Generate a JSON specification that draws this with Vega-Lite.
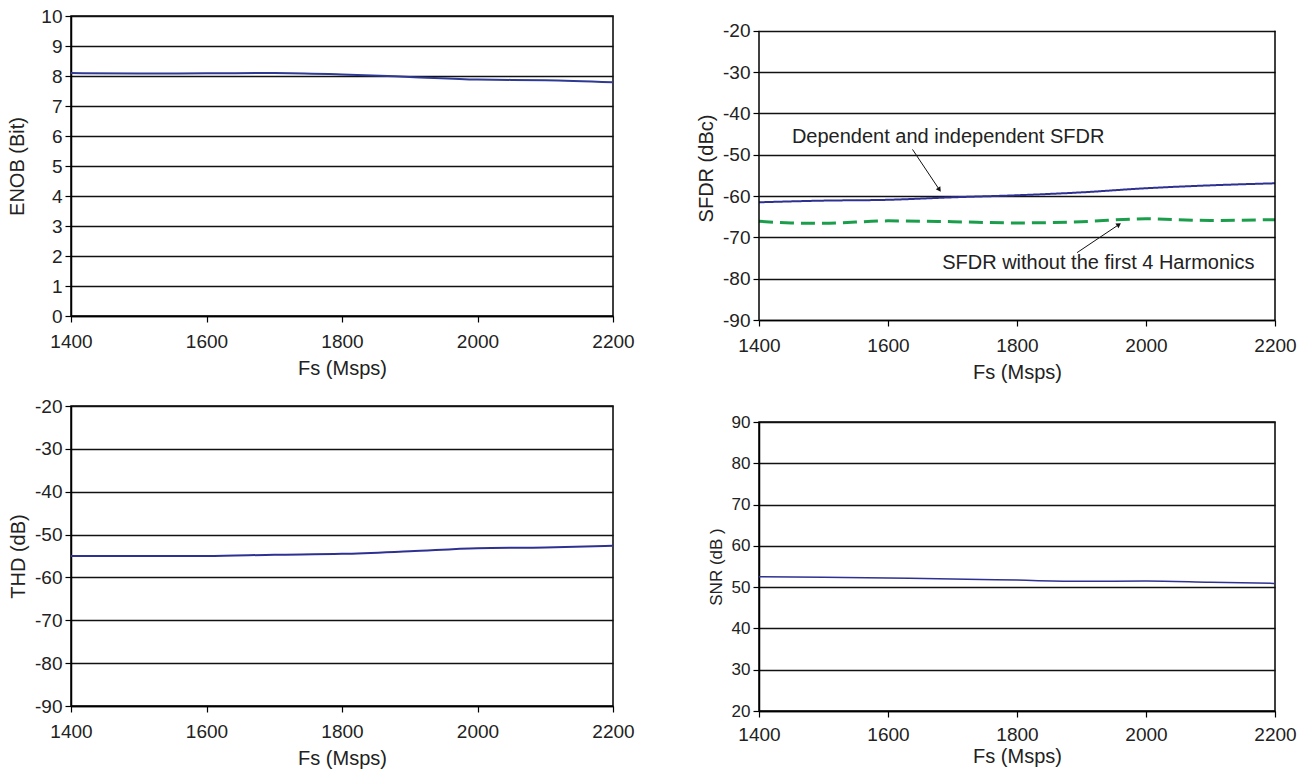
{
  "$schema": "https://vega.github.io/schema/vega-lite/v6.json",
  "background": "white",
  "padding": {"left": 7, "top": 6, "right": 10, "bottom": 2},
  "columns": 2,
  "align": "none",
  "spacing": 61,
  "config": {
    "font": "Liberation Sans",
    "view": {"stroke": "#000", "strokeWidth": 1.5},
    "axis": {
      "labelFontSize": 19, "titleFontSize": 20, "titleFontWeight": "normal",
      "labelColor": "#222", "titleColor": "#222",
      "domainColor": "#000", "domainWidth": 1.5,
      "tickColor": "#000", "tickSize": 6, "tickWidth": 1.2,
      "gridColor": "#111", "gridWidth": 1.3, "gridOpacity": 1,
      "labelPadding": 3, "labelFlush": false, "labelOverlap": false,
      "labelExpr": "datum.value + ''"
    },
    "axisX": {"grid": false, "labelPadding": 10, "titlePadding": 7},
    "axisY": {"titlePadding": 6}
  },
  "datasets": {
    "enob": [
      {"fs": 1400, "v": 8.1}, {"fs": 1500, "v": 8.08}, {"fs": 1600, "v": 8.09},
      {"fs": 1700, "v": 8.1}, {"fs": 1800, "v": 8.05}, {"fs": 1900, "v": 7.97},
      {"fs": 2000, "v": 7.88}, {"fs": 2100, "v": 7.86}, {"fs": 2200, "v": 7.79}
    ],
    "sfdr": [
      {"fs": 1400, "v": -61.5, "s": "Dependent and independent SFDR"},
      {"fs": 1500, "v": -61.1, "s": "Dependent and independent SFDR"},
      {"fs": 1600, "v": -60.9, "s": "Dependent and independent SFDR"},
      {"fs": 1700, "v": -60.3, "s": "Dependent and independent SFDR"},
      {"fs": 1800, "v": -59.8, "s": "Dependent and independent SFDR"},
      {"fs": 1900, "v": -59.1, "s": "Dependent and independent SFDR"},
      {"fs": 2000, "v": -58.1, "s": "Dependent and independent SFDR"},
      {"fs": 2100, "v": -57.4, "s": "Dependent and independent SFDR"},
      {"fs": 2200, "v": -56.9, "s": "Dependent and independent SFDR"},
      {"fs": 1400, "v": -66.1, "s": "SFDR without the first 4 Harmonics"},
      {"fs": 1450, "v": -66.5, "s": "SFDR without the first 4 Harmonics"},
      {"fs": 1500, "v": -66.6, "s": "SFDR without the first 4 Harmonics"},
      {"fs": 1600, "v": -66.0, "s": "SFDR without the first 4 Harmonics"},
      {"fs": 1700, "v": -66.2, "s": "SFDR without the first 4 Harmonics"},
      {"fs": 1800, "v": -66.5, "s": "SFDR without the first 4 Harmonics"},
      {"fs": 1900, "v": -66.2, "s": "SFDR without the first 4 Harmonics"},
      {"fs": 2000, "v": -65.5, "s": "SFDR without the first 4 Harmonics"},
      {"fs": 2100, "v": -65.9, "s": "SFDR without the first 4 Harmonics"},
      {"fs": 2200, "v": -65.7, "s": "SFDR without the first 4 Harmonics"}
    ],
    "notes": [
      {"fs": 1451, "v": -45.6, "label": "Dependent and independent SFDR"},
      {"fs": 1684, "v": -76.3, "label": "SFDR without the first 4 Harmonics"}
    ],
    "arrows": [
      {"fs": 1638, "v": -48.7, "fs2": 1679, "v2": -58.3},
      {"fs": 1893, "v": -73.7, "fs2": 1957, "v2": -67.0}
    ],
    "frame": [
      {"fs": 1400}, {"fs": 2200}
    ],
    "thd": [
      {"fs": 1400, "v": -55.0}, {"fs": 1500, "v": -55.0}, {"fs": 1600, "v": -55.0},
      {"fs": 1700, "v": -54.7}, {"fs": 1800, "v": -54.5}, {"fs": 1900, "v": -53.9},
      {"fs": 2000, "v": -53.2}, {"fs": 2100, "v": -53.0}, {"fs": 2200, "v": -52.6}
    ],
    "snr": [
      {"fs": 1400, "v": 52.5}, {"fs": 1500, "v": 52.4}, {"fs": 1600, "v": 52.2},
      {"fs": 1700, "v": 52.0}, {"fs": 1800, "v": 51.7}, {"fs": 1900, "v": 51.4},
      {"fs": 2000, "v": 51.5}, {"fs": 2100, "v": 51.2}, {"fs": 2200, "v": 50.9}
    ]
  },
  "concat": [
    {
      "concat": [
        {
          "width": 542, "height": 300,
          "data": {"name": "enob"},
          "mark": {"type": "line", "interpolate": "monotone", "color": "#2e3a94", "strokeWidth": 2},
          "encoding": {
            "x": {"field": "fs", "type": "quantitative", "scale": {"domain": [1400, 2200], "nice": false, "zero": false},
                  "axis": {"values": [1400, 1600, 1800, 2000, 2200], "title": "Fs (Msps)"}},
            "y": {"field": "v", "type": "quantitative", "scale": {"domain": [0, 10], "nice": false},
                  "axis": {"values": [0, 1, 2, 3, 4, 5, 6, 7, 8, 9, 10], "title": "ENOB (Bit)", "titlePadding": 13}}
          }
        },
        {
          "width": 542, "height": 300,
          "data": {"name": "thd"},
          "mark": {"type": "line", "interpolate": "monotone", "color": "#2e3192", "strokeWidth": 2},
          "encoding": {
            "x": {"field": "fs", "type": "quantitative", "scale": {"domain": [1400, 2200], "nice": false, "zero": false},
                  "axis": {"values": [1400, 1600, 1800, 2000, 2200], "title": "Fs (Msps)"}},
            "y": {"field": "v", "type": "quantitative", "scale": {"domain": [-90, -20], "nice": false, "zero": false},
                  "axis": {"values": [-90, -80, -70, -60, -50, -40, -30, -20], "title": "THD (dB)"}}
          }
        }
      ],
      "columns": 1,
      "align": "none",
      "spacing": 17
    },
    {
      "concat": [
        {
          "width": 516, "height": 304,
          "view": {"stroke": null},
          "layer": [
            {
              "data": {"name": "sfdr"},
              "mark": {"type": "line", "interpolate": "monotone"},
              "encoding": {
                "x": {"field": "fs", "type": "quantitative", "scale": {"domain": [1400, 2200], "nice": false, "zero": false},
                      "axis": {"values": [1400, 1600, 1800, 2000, 2200], "title": "Fs (Msps)"}},
                "y": {"field": "v", "type": "quantitative", "scale": {"domain": [-90, -16.4], "nice": false, "zero": false},
                      "axis": {"values": [-90, -80, -70, -60, -50, -40, -30, -20], "title": "SFDR (dBc)", "domain": false}},
                "color": {"field": "s", "type": "nominal", "legend": null,
                          "scale": {"domain": ["Dependent and independent SFDR", "SFDR without the first 4 Harmonics"], "range": ["#2e3192", "#1b9e4b"]}},
                "strokeDash": {"field": "s", "type": "nominal", "legend": null,
                               "scale": {"domain": ["Dependent and independent SFDR", "SFDR without the first 4 Harmonics"], "range": [[1, 0], [14, 7]]}},
                "strokeWidth": {"field": "s", "type": "nominal", "legend": null,
                                "scale": {"domain": ["Dependent and independent SFDR", "SFDR without the first 4 Harmonics"], "range": [2, 3]}}
              }
            },
            {
              "data": {"name": "frame"},
              "mark": {"type": "rule", "color": "#000", "strokeWidth": 1.5},
              "encoding": {
                "x": {"field": "fs", "type": "quantitative"},
                "y": {"datum": -90},
                "y2": {"datum": -20}
              }
            },
            {
              "data": {"name": "notes"},
              "mark": {"type": "text", "align": "left", "baseline": "middle", "fontSize": 20, "color": "#222"},
              "encoding": {
                "x": {"field": "fs", "type": "quantitative"},
                "y": {"field": "v", "type": "quantitative"},
                "text": {"field": "label"}
              }
            },
            {
              "data": {"name": "arrows"},
              "mark": {"type": "rule", "color": "#111", "strokeWidth": 1},
              "encoding": {
                "x": {"field": "fs", "type": "quantitative"},
                "y": {"field": "v", "type": "quantitative"},
                "x2": {"field": "fs2"},
                "y2": {"field": "v2"}
              }
            },
            {
              "data": {"name": "arrows"},
              "transform": [{"filter": "datum.fs < 1700"}],
              "mark": {"type": "point", "shape": "triangle", "filled": true, "size": 30, "color": "#111", "angle": 146, "opacity": 1},
              "encoding": {
                "x": {"field": "fs2", "type": "quantitative"},
                "y": {"field": "v2", "type": "quantitative"}
              }
            },
            {
              "data": {"name": "arrows"},
              "transform": [{"filter": "datum.fs > 1700"}],
              "mark": {"type": "point", "shape": "triangle", "filled": true, "size": 30, "color": "#111", "angle": 56, "opacity": 1},
              "encoding": {
                "x": {"field": "fs2", "type": "quantitative"},
                "y": {"field": "v2", "type": "quantitative"}
              }
            }
          ]
        },
        {
          "width": 516, "height": 289,
          "data": {"name": "snr"},
          "mark": {"type": "line", "interpolate": "monotone", "color": "#2e3192", "strokeWidth": 1.5},
          "encoding": {
            "x": {"field": "fs", "type": "quantitative", "scale": {"domain": [1400, 2200], "nice": false, "zero": false},
                  "axis": {"values": [1400, 1600, 1800, 2000, 2200], "title": "Fs (Msps)", "labelPadding": 8, "titlePadding": 2}},
            "y": {"field": "v", "type": "quantitative", "scale": {"domain": [20, 90], "nice": false, "zero": false},
                  "axis": {"values": [20, 30, 40, 50, 60, 70, 80, 90], "title": "SNR (dB )", "labelFontSize": 17, "titleFontSize": 17}}
          }
        }
      ],
      "columns": 1,
      "align": "none",
      "spacing": 30
    }
  ]
}
